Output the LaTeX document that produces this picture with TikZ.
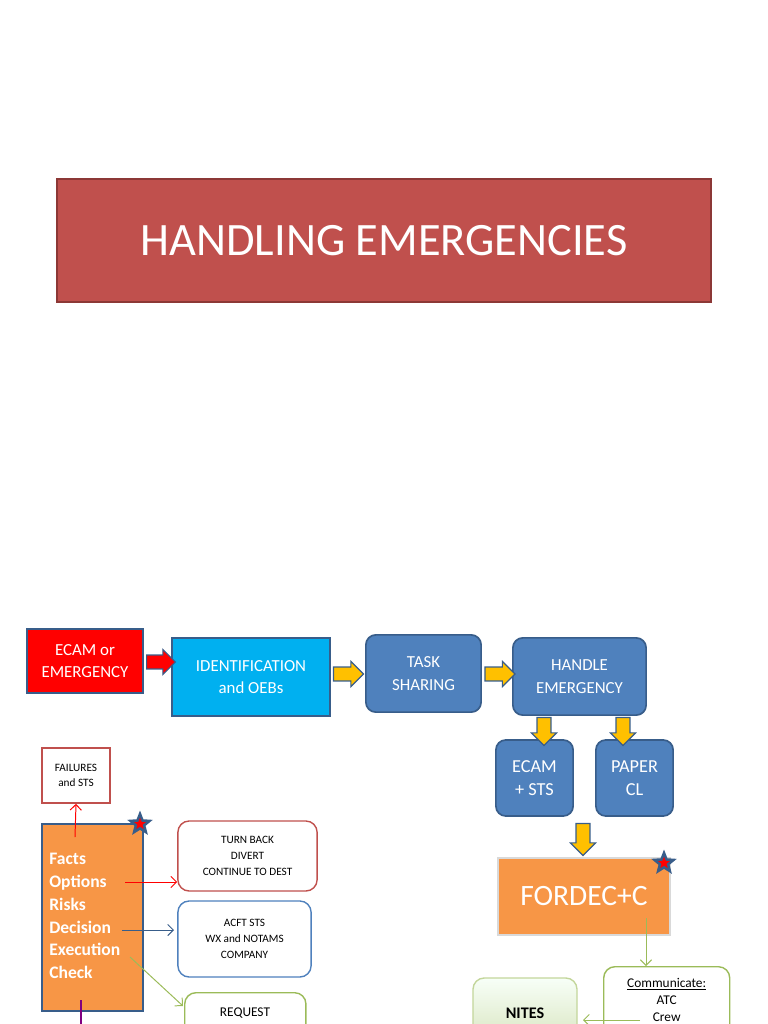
\documentclass[tikz,border=0pt]{standalone}
\usepackage{fontspec}
\setmainfont{Carlito}
\usetikzlibrary{shapes.arrows,shapes.geometric,arrows.meta}
\definecolor{tred}{HTML}{C0504D}
\definecolor{tredd}{HTML}{8C3836}
\definecolor{cyanb}{HTML}{00B0F0}
\definecolor{blueb}{HTML}{4F81BD}
\definecolor{blued}{HTML}{385D8A}
\definecolor{orng}{HTML}{F79646}
\definecolor{gold}{HTML}{FFC000}
\definecolor{grn}{HTML}{9BBB59}
\newcommand{\shaft}{\rule{0pt}{0.32cm}}
\begin{document}
\begin{tikzpicture}[x=0.025cm,y=-0.025cm,
 box/.style={draw=blued,line width=1.2pt,text=white,align=center,inner sep=0pt,font=\fontsize{12}{16}\selectfont},
 rbox/.style={box,rounded corners=7pt,fill=blueb},
 wbox/.style={draw,line width=1pt,fill=white,align=center,inner sep=0pt,rounded corners=8pt,font=\fontsize{8}{11.5}\selectfont},
 barrow/.style={single arrow,draw=blued,fill=gold,line width=0.8pt,minimum height=0.75cm,minimum width=0.6cm,single arrow head extend=0.14cm,inner sep=0pt},
 mstar/.style={star,star points=5,star point ratio=2.3,fill=red,draw=blued,line width=1.8pt,minimum size=0.5cm,inner sep=0pt}]
\useasboundingbox (0,0) rectangle (768,1024);
\clip (0,0) rectangle (768,1024);
\node[draw=tredd,fill=tred,line width=1pt,minimum width=16.35cm,minimum height=3.07cm,text=white,font=\fontsize{33}{36}\selectfont] (title) at (384,240.5) {HANDLING EMERGENCIES};
\node[box,fill=red,minimum width=2.9cm,minimum height=1.6cm] (ecam) at (85,661) {ECAM or\\EMERGENCY};
\node[box,fill=cyanb,minimum width=3.95cm,minimum height=1.95cm] (ident) at (251,677) {IDENTIFICATION\\and OEBs};
\node[rbox,minimum width=2.88cm,minimum height=1.93cm] (task) at (423.5,673.5) {TASK\\SHARING};
\node[rbox,minimum width=3.33cm,minimum height=1.93cm] (handle) at (579.5,676.5) {HANDLE\\EMERGENCY};
\node[rbox,minimum width=1.93cm,minimum height=1.9cm,font=\fontsize{13}{16}\selectfont] (ecs) at (534.5,778) {ECAM\\+ STS};
\node[rbox,minimum width=1.93cm,minimum height=1.9cm,font=\fontsize{13}{16}\selectfont] (paper) at (634.5,778) {PAPER\\CL};
\node[barrow,fill=red,minimum height=0.72cm] (a1) at (157.5,662) {\shaft};
\node[barrow] (a2) at (345,674) {\shaft};
\node[barrow] (a3) at (496.5,674) {\shaft};
\node[barrow,rotate=-90,minimum height=0.7cm] (a4) at (544,728) {\shaft};
\node[barrow,rotate=-90,minimum height=0.7cm] (a5) at (623,728) {\shaft};
\node[barrow,rotate=-90,minimum height=0.8cm] (a6) at (583,836) {\shaft};
\node[fill=orng,draw=white!85!black,line width=1pt,minimum width=4.3cm,minimum height=1.93cm,text=white,font=\fontsize{21}{24}\selectfont] (fordec) at (584,896.5) {FORDEC+C};
\node[mstar] (s1) at (664,863) {};
\node[wbox,draw=grn,minimum width=3.15cm,minimum height=2.5cm,anchor=north west,font=\fontsize{9.5}{12}\selectfont] (comm) at (603,966) {\underline{Communicate:}\\ATC\\Crew\\ \\ };
\node[wbox,draw=grn!60,top color=green!3,bottom color=grn!40,minimum width=2.6cm,minimum height=1.75cm,font=\bfseries\fontsize{11.5}{14}\selectfont] (nites) at (525,1013) {NITES};
\coordinate (c1) at (646,918);
\coordinate (c2) at (646,966);
\draw[grn,line width=0.7pt,-{Straight Barb[length=4pt]}] (c1) -- (c2);
\coordinate (c3) at (640,1020);
\coordinate (c4) at (583,1020);
\draw[grn,line width=0.7pt,-{Straight Barb[length=4pt]}] (c3) -- (c4);
\node[draw=tred,fill=white,line width=1pt,minimum width=1.7cm,minimum height=1.38cm,align=center,inner sep=0pt,font=\fontsize{8}{10.5}\selectfont] (fail) at (76,775.5) {FAILURES\\and STS};
\node[draw=blued,fill=orng,line width=1.2pt,minimum width=2.53cm,minimum height=4.68cm,anchor=north west] (fact) at (41,823) {};
\node[anchor=north west,text=white,align=left,inner sep=0pt,font=\bfseries\fontsize{12.5}{16.2}\selectfont] (facttxt) at (49,853) {Facts\\Options\\Risks\\Decision\\Execution\\Check};
\node[mstar] (s2) at (140,824) {};
\node[wbox,draw=tred,minimum width=3.48cm,minimum height=1.75cm] (turn) at (247.5,856) {TURN BACK\\DIVERT\\CONTINUE TO DEST};
\node[wbox,draw=blueb,minimum width=3.33cm,minimum height=1.9cm] (acft) at (244.5,939) {ACFT STS\\WX and NOTAMS\\COMPANY};
\node[wbox,draw=grn,minimum width=3.03cm,minimum height=1.6cm,anchor=north west] (req) at (184,992) {};
\node[font=\fontsize{9.5}{12}\selectfont,inner sep=0pt] (reqtxt) at (245,1013) {REQUEST};
\coordinate (f1) at (75,837);
\draw[red,line width=0.7pt,-{Straight Barb[length=4pt]}] (f1) -- (fail.south);
\coordinate (f2) at (125,882);
\draw[red,line width=0.7pt,-{Straight Barb[length=4pt]}] (f2) -- (turn.west|-f2);
\coordinate (f3) at (122,930);
\coordinate (f4) at (174,930);
\draw[blued,line width=0.7pt,-{Straight Barb[length=4pt]}] (f3) -- (f4);
\coordinate (f5) at (130,957);
\coordinate (f6) at (183,1006);
\draw[grn,line width=0.7pt,-{Straight Barb[length=4pt]}] (f5) -- (f6);
\coordinate (f7) at (81,1000);
\coordinate (f8) at (81,1030);
\draw[violet,line width=1pt] (f7) -- (f8);
\end{tikzpicture}
\end{document}
